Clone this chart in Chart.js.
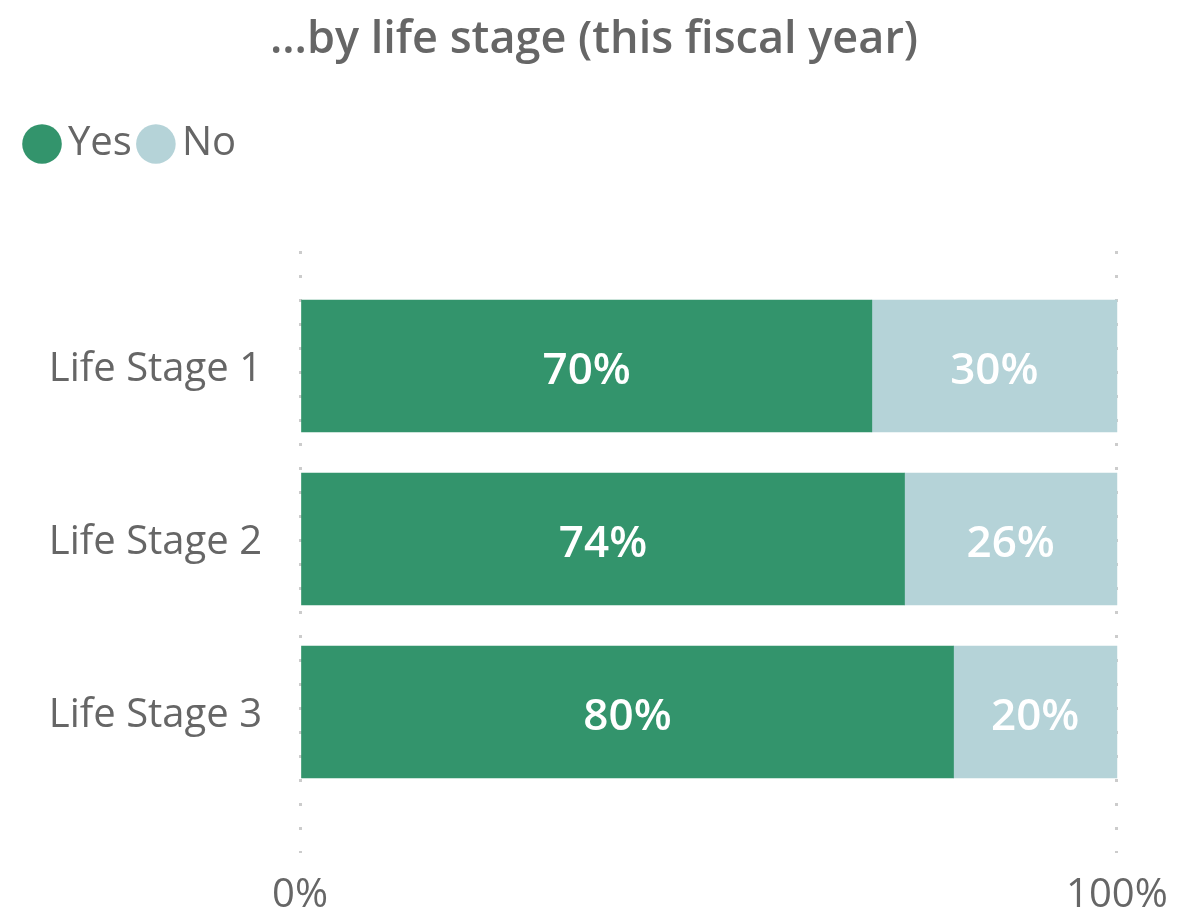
<!DOCTYPE html>
<html>
<head>
<meta charset="utf-8">
<script src="https://cdn.jsdelivr.net/npm/chart.js@4"></script>
<style>
	html, body { margin: 0; padding: 0; background: #fff; }
	#wrap { width: 1188px; height: 915px; position: relative; }
</style>
</head>
<body>
<div id="wrap"><canvas id="lifeChart"></canvas></div>
<script>
// データ
const categories = ['Life Stage 1', 'Life Stage 2', 'Life Stage 3'];
const yesValues = [70, 74, 80];
const noValues = [30, 26, 20];
const xTicks = [0, 100];

const FONT = "'Open Sans', 'Noto Sans', sans-serif";
const GREY = '#666666';

// 棒の中にラベルを書く
const segmentLabels = {
	id: 'segmentLabels',
	afterDatasetsDraw(chart) {
		const ctx = chart.ctx;
		ctx.save();
		ctx.font = '600 44px ' + FONT;
		ctx.fillStyle = '#ffffff';
		ctx.textAlign = 'center';
		ctx.textBaseline = 'middle';
		chart.data.datasets.forEach((ds, i) => {
			chart.getDatasetMeta(i).data.forEach((bar, j) => {
				const p = bar.getCenterPoint();
				ctx.fillText(ds.data[j].x + '%', p.x, p.y + 5);
			});
		});
		ctx.restore();
	}
};

// 凡例とグラフの間隔
const legendGap = {
	id: 'legendGap',
	beforeInit(chart) {
		const fit = chart.legend.fit;
		chart.legend.fit = function() {
			fit.call(this);
			this.height += 77;
		};
	}
};

new Chart(document.getElementById('lifeChart'), {
	type: 'bar',
	data: {
		datasets: [{
			label: 'Yes',
			data: yesValues.map((v, i) => ({ x: v, y: i })),
			backgroundColor: '#33946c',
			barThickness: 132
		}, {
			label: 'No',
			data: noValues.map((v, i) => ({ x: v, y: i })),
			backgroundColor: '#b5d3d8',
			barThickness: 132
		}]
	},
	options: {
		indexAxis: 'y',
		responsive: true,
		maintainAspectRatio: false,
		animation: false,
		layout: {
			padding: { left: 18, right: 18, top: 0, bottom: 0 }
		},
		plugins: {
			tooltip: { enabled: false },
			title: {
				display: true,
				text: '...by life stage (this fiscal year)',
				color: GREY,
				font: { family: FONT, size: 45, weight: '600' },
				padding: { top: 13, bottom: 39 }
			},
			legend: {
				position: 'top',
				align: 'start',
				labels: {
					usePointStyle: true,
					pointStyle: 'circle',
					color: GREY,
					font: { family: FONT, size: 40 },
					padding: 18,
					boxWidth: 12,
					boxHeight: 28
				}
			}
		},
		scales: {
			x: {
				type: 'linear',
				stacked: true,
				min: 0,
				max: 106.5,
				afterBuildTicks: (scale) => {
					scale.ticks = xTicks.map(v => ({ value: v }));
				},
				afterFit: (scale) => {
					scale.paddingLeft = 0;
					scale.paddingRight = 0;
					scale.height = 62;
				},
				grid: {
					color: '#cccccc',
					lineWidth: 3,
					drawTicks: false
				},
				border: { display: false, dash: [3, 21] },
				ticks: {
					color: GREY,
					font: { family: FONT, size: 40 },
					padding: 19,
					maxRotation: 0,
					callback: (v) => v + '%'
				}
			},
			y: {
				type: 'linear',
				stacked: true,
				reverse: true,
				offset: false,
				min: -0.665,
				max: 2.815,
				afterBuildTicks: (scale) => {
					scale.ticks = categories.map((c, i) => ({ value: i }));
				},
				afterFit: (scale) => {
					scale.width = 282;
					scale.paddingTop = 0;
					scale.paddingBottom = 0;
				},
				grid: { display: false, drawTicks: false, offset: false },
				border: { display: false },
				ticks: {
					color: GREY,
					font: { family: FONT, size: 40 },
					padding: 38,
					labelOffset: 4,
					callback: (v) => categories[v]
				}
			}
		}
	},
	plugins: [segmentLabels, legendGap]
});
</script>
</body>
</html>
